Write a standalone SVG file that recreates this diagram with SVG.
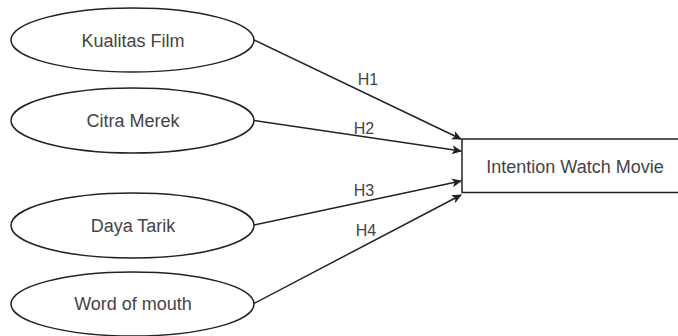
<svg xmlns="http://www.w3.org/2000/svg" width="678" height="336" viewBox="0 0 678 336">
<defs>
<style>
.node ellipse, .node rect { fill: #ffffff; stroke: #222222; stroke-width: 1.5; }
.lbl { font-family: "Liberation Sans", Arial, sans-serif; font-size: 18px; fill: #444444; text-anchor: middle; }
.edge { stroke: #222222; stroke-width: 1.5; fill: none; marker-end: url(#arr); }
.elbl { font-family: "Liberation Sans", Arial, sans-serif; font-size: 16px; fill: #444444; text-anchor: middle; }
</style>
<marker id="arr" viewBox="0 0 10 10" refX="9" refY="5" markerWidth="10" markerHeight="10" markerUnits="userSpaceOnUse" orient="auto">
<path d="M0,0.5 L10,5 L0,9.5 L2.5,5 Z" fill="#222222"/>
</marker>
</defs>
<rect width="678" height="336" fill="#ffffff"/>
<g id="connectors">
<line class="edge" x1="254" y1="40" x2="461" y2="139"/>
<line class="edge" x1="254" y1="120.5" x2="461" y2="151"/>
<line class="edge" x1="254" y1="225" x2="461" y2="181"/>
<line class="edge" x1="253" y1="304" x2="461" y2="195"/>
<text class="elbl" x="368" y="84.5">H1</text>
<text class="elbl" x="364" y="133.5">H2</text>
<text class="elbl" x="364" y="195.5">H3</text>
<text class="elbl" x="366" y="235.5">H4</text>
</g>
<g id="kualitas-film" class="node">
<ellipse cx="132.5" cy="40" rx="121.5" ry="32"/>
<text class="lbl" x="133" y="46.5">Kualitas Film</text>
</g>
<g id="citra-merek" class="node">
<ellipse cx="132.5" cy="120.5" rx="121.5" ry="32.5"/>
<text class="lbl" x="133" y="127">Citra Merek</text>
</g>
<g id="daya-tarik" class="node">
<ellipse cx="132.5" cy="225.5" rx="121.5" ry="32.5"/>
<text class="lbl" x="133" y="232">Daya Tarik</text>
</g>
<g id="word-of-mouth" class="node">
<ellipse cx="132.5" cy="304" rx="121.5" ry="32"/>
<text class="lbl" x="133" y="310">Word of mouth</text>
</g>
<g id="intention-watch-movie" class="node">
<rect x="462" y="139" width="230" height="53.5"/>
<text class="lbl" x="575" y="172.5">Intention Watch Movie</text>
</g>
</svg>
